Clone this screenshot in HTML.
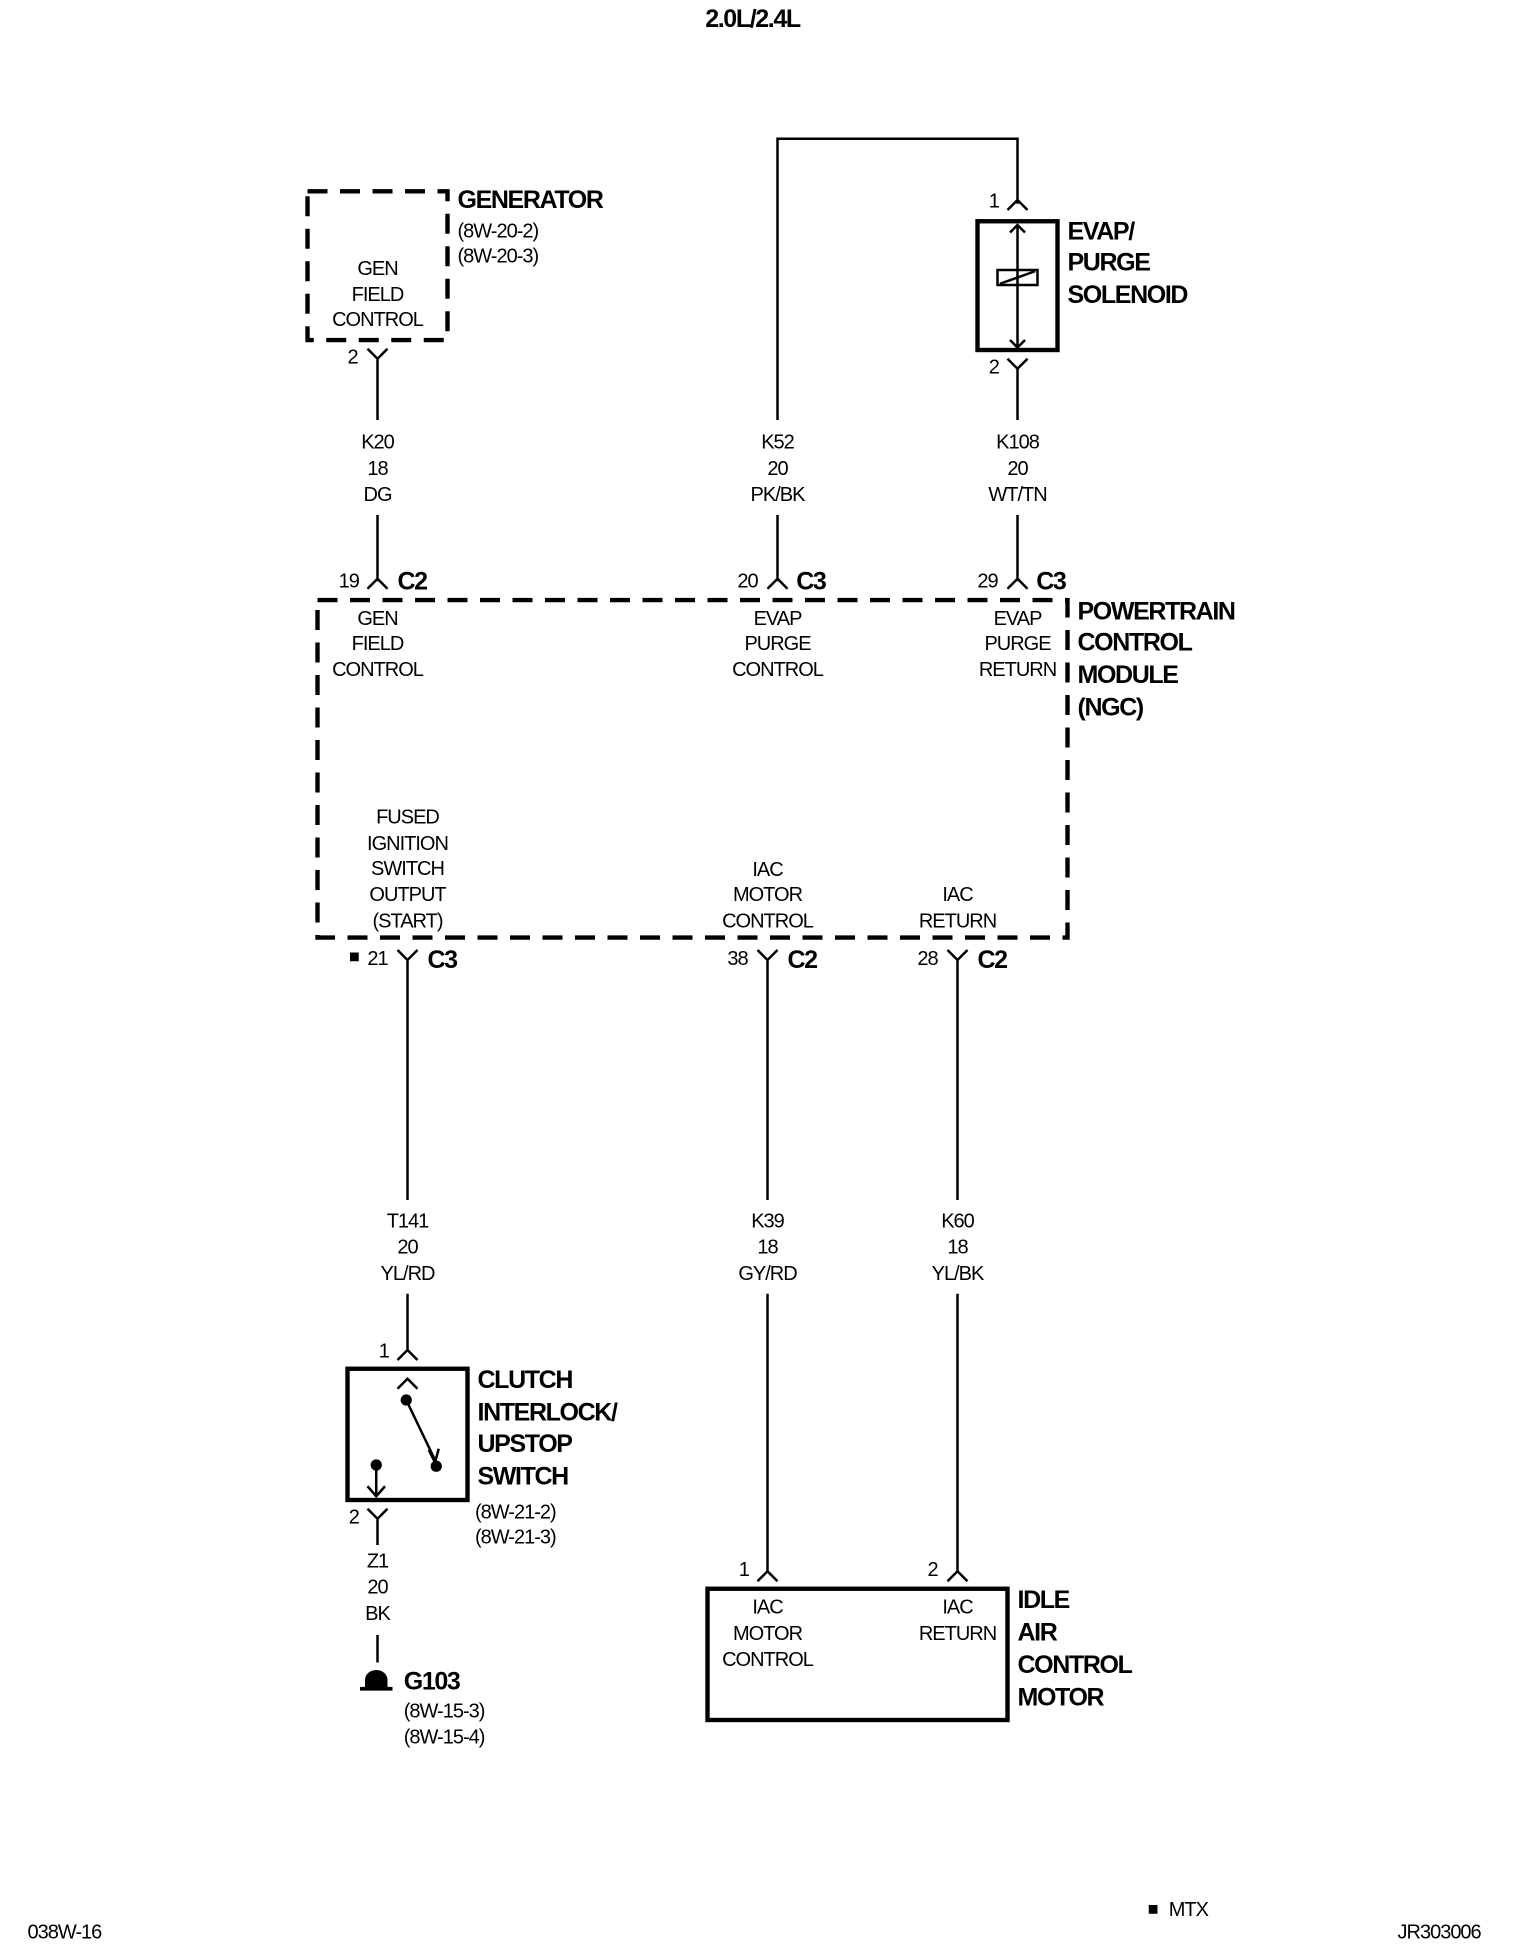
<!DOCTYPE html>
<html><head><meta charset="utf-8"><style>
html,body{margin:0;padding:0;background:#fff}
svg{display:block}
text{font-family:"Liberation Sans",Arial,sans-serif;fill:#000;dominant-baseline:central}
.s{font-size:16px;letter-spacing:-0.8px}
.b{font-size:20px;font-weight:bold;letter-spacing:-1.1px}
.m{text-anchor:middle}
</style></head><body>
<svg width="1520" height="1960" viewBox="0 0 1216 1568" xmlns="http://www.w3.org/2000/svg">
<g fill="none" stroke="#000" stroke-width="2">
<rect x="246" y="153" width="112" height="119" stroke-width="3.5" stroke-dasharray="16,10"/>
<rect x="254" y="480" width="600" height="270" stroke-width="3.5" stroke-dasharray="16,10"/>
<rect x="782" y="177" width="64" height="103" stroke-width="3.5"/>
<rect x="278" y="1095" width="96" height="105" stroke-width="3.5"/>
<rect x="566" y="1271" width="240" height="105" stroke-width="3.5"/>
<path d="M294,279 L302,287 L310,279 M302,287 V336 M302,412 V465 M294,471 L302,463 L310,471"/>
<path d="M622,336 V111 H814 V163 M806,168 L814,160 L822,168 M622,412 V465 M614,471 L622,463 L630,471"/>
<path d="M814,180 V278 M808,186 L814,180 L820,186 M808,272 L814,278 L820,272"/>
<rect x="798" y="216" width="32" height="12"/>
<path d="M800,227 L828,217"/>
<path d="M806,287 L814,295 L822,287 M814,295 V336 M814,412 V465 M806,471 L814,463 L822,471"/>
<path d="M318,760 L326,768 L334,760 M326,768 V960 M326,1035 V1080 M318,1088 L326,1080 L334,1088"/>
<path d="M606,760 L614,768 L622,760 M614,768 V960 M614,1035 V1257 M606,1265 L614,1257 L622,1265"/>
<path d="M758,760 L766,768 L774,760 M766,768 V960 M766,1035 V1257 M758,1265 L766,1257 L774,1265"/>
<path d="M318,1111 L326,1103 L334,1111 M325,1120 L348,1168 M343,1160 L348,1170 L351,1159 M301,1172 V1197 M294,1189 L301,1197 L308,1189"/>
<path d="M294,1207 L302,1215 L310,1207 M302,1215 V1236 M302,1308 V1330"/>
<path d="M288,1351 H314" stroke-width="3"/>
</g>
<g fill="#000">
<circle cx="325" cy="1120" r="4.5"/><circle cx="349" cy="1173" r="4.5"/><circle cx="301" cy="1172" r="4.5"/>
<path d="M292,1350 L292,1344 A9,8 0 0 1 310,1344 L310,1350 Z"/>
<rect x="280" y="762" width="7" height="7"/>
<rect x="919" y="1524" width="7" height="7"/>
</g>
<text x="602" y="15" class="b m">2.0L/2.4L</text>
<text x="302" y="215" class="s m">GEN</text><text x="302" y="236" class="s m">FIELD</text><text x="302" y="256" class="s m">CONTROL</text>
<text x="366" y="160" class="b">GENERATOR</text>
<text x="366" y="185" class="s">(8W-20-2)</text><text x="366" y="205" class="s">(8W-20-3)</text>
<text x="282" y="286" class="s m">2</text>
<text x="302" y="354" class="s m">K20</text><text x="302" y="375" class="s m">18</text><text x="302" y="396" class="s m">DG</text>
<text x="279" y="465" class="s m">19</text><text x="318" y="465" class="b">C2</text>
<text x="622" y="354" class="s m">K52</text><text x="622" y="375" class="s m">20</text><text x="622" y="396" class="s m">PK/BK</text>
<text x="598" y="465" class="s m">20</text><text x="637" y="465" class="b">C3</text>
<text x="795" y="161" class="s m">1</text><text x="795" y="294" class="s m">2</text>
<text x="854" y="185" class="b">EVAP/</text><text x="854" y="210" class="b">PURGE</text><text x="854" y="236" class="b">SOLENOID</text>
<text x="814" y="354" class="s m">K108</text><text x="814" y="375" class="s m">20</text><text x="814" y="396" class="s m">WT/TN</text>
<text x="790" y="465" class="s m">29</text><text x="829" y="465" class="b">C3</text>
<text x="302" y="495" class="s m">GEN</text><text x="302" y="515" class="s m">FIELD</text><text x="302" y="536" class="s m">CONTROL</text>
<text x="622" y="495" class="s m">EVAP</text><text x="622" y="515" class="s m">PURGE</text><text x="622" y="536" class="s m">CONTROL</text>
<text x="814" y="495" class="s m">EVAP</text><text x="814" y="515" class="s m">PURGE</text><text x="814" y="536" class="s m">RETURN</text>
<text x="862" y="489" class="b">POWERTRAIN</text><text x="862" y="514" class="b">CONTROL</text><text x="862" y="540" class="b">MODULE</text><text x="862" y="566" class="b">(NGC)</text>
<text x="326" y="654" class="s m">FUSED</text><text x="326" y="675" class="s m">IGNITION</text><text x="326" y="695" class="s m">SWITCH</text><text x="326" y="716" class="s m">OUTPUT</text><text x="326" y="737" class="s m">(START)</text>
<text x="614" y="696" class="s m">IAC</text><text x="614" y="716" class="s m">MOTOR</text><text x="614" y="737" class="s m">CONTROL</text>
<text x="766" y="716" class="s m">IAC</text><text x="766" y="737" class="s m">RETURN</text>
<text x="302" y="767" class="s m">21</text><text x="342" y="768" class="b">C3</text>
<text x="590" y="767" class="s m">38</text><text x="630" y="768" class="b">C2</text>
<text x="742" y="767" class="s m">28</text><text x="782" y="768" class="b">C2</text>
<text x="326" y="977" class="s m">T141</text><text x="326" y="998" class="s m">20</text><text x="326" y="1019" class="s m">YL/RD</text>
<text x="614" y="977" class="s m">K39</text><text x="614" y="998" class="s m">18</text><text x="614" y="1019" class="s m">GY/RD</text>
<text x="766" y="977" class="s m">K60</text><text x="766" y="998" class="s m">18</text><text x="766" y="1019" class="s m">YL/BK</text>
<text x="307" y="1081" class="s m">1</text>
<text x="382" y="1104" class="b">CLUTCH</text><text x="382" y="1130" class="b">INTERLOCK/</text><text x="382" y="1155" class="b">UPSTOP</text><text x="382" y="1181" class="b">SWITCH</text>
<text x="380" y="1210" class="s">(8W-21-2)</text><text x="380" y="1230" class="s">(8W-21-3)</text>
<text x="283" y="1214" class="s m">2</text>
<text x="302" y="1249" class="s m">Z1</text><text x="302" y="1270" class="s m">20</text><text x="302" y="1291" class="s m">BK</text>
<text x="323" y="1345" class="b">G103</text>
<text x="323" y="1369" class="s">(8W-15-3)</text><text x="323" y="1390" class="s">(8W-15-4)</text>
<text x="595" y="1256" class="s m">1</text><text x="746" y="1256" class="s m">2</text>
<text x="614" y="1286" class="s m">IAC</text><text x="614" y="1307" class="s m">MOTOR</text><text x="614" y="1328" class="s m">CONTROL</text>
<text x="766" y="1286" class="s m">IAC</text><text x="766" y="1307" class="s m">RETURN</text>
<text x="814" y="1280" class="b">IDLE</text><text x="814" y="1306" class="b">AIR</text><text x="814" y="1332" class="b">CONTROL</text><text x="814" y="1358" class="b">MOTOR</text>
<text x="22" y="1546" class="s">038W-16</text>
<text x="935" y="1528" class="s">MTX</text>
<text x="1118" y="1546" class="s">JR303006</text>
</svg>
</body></html>
